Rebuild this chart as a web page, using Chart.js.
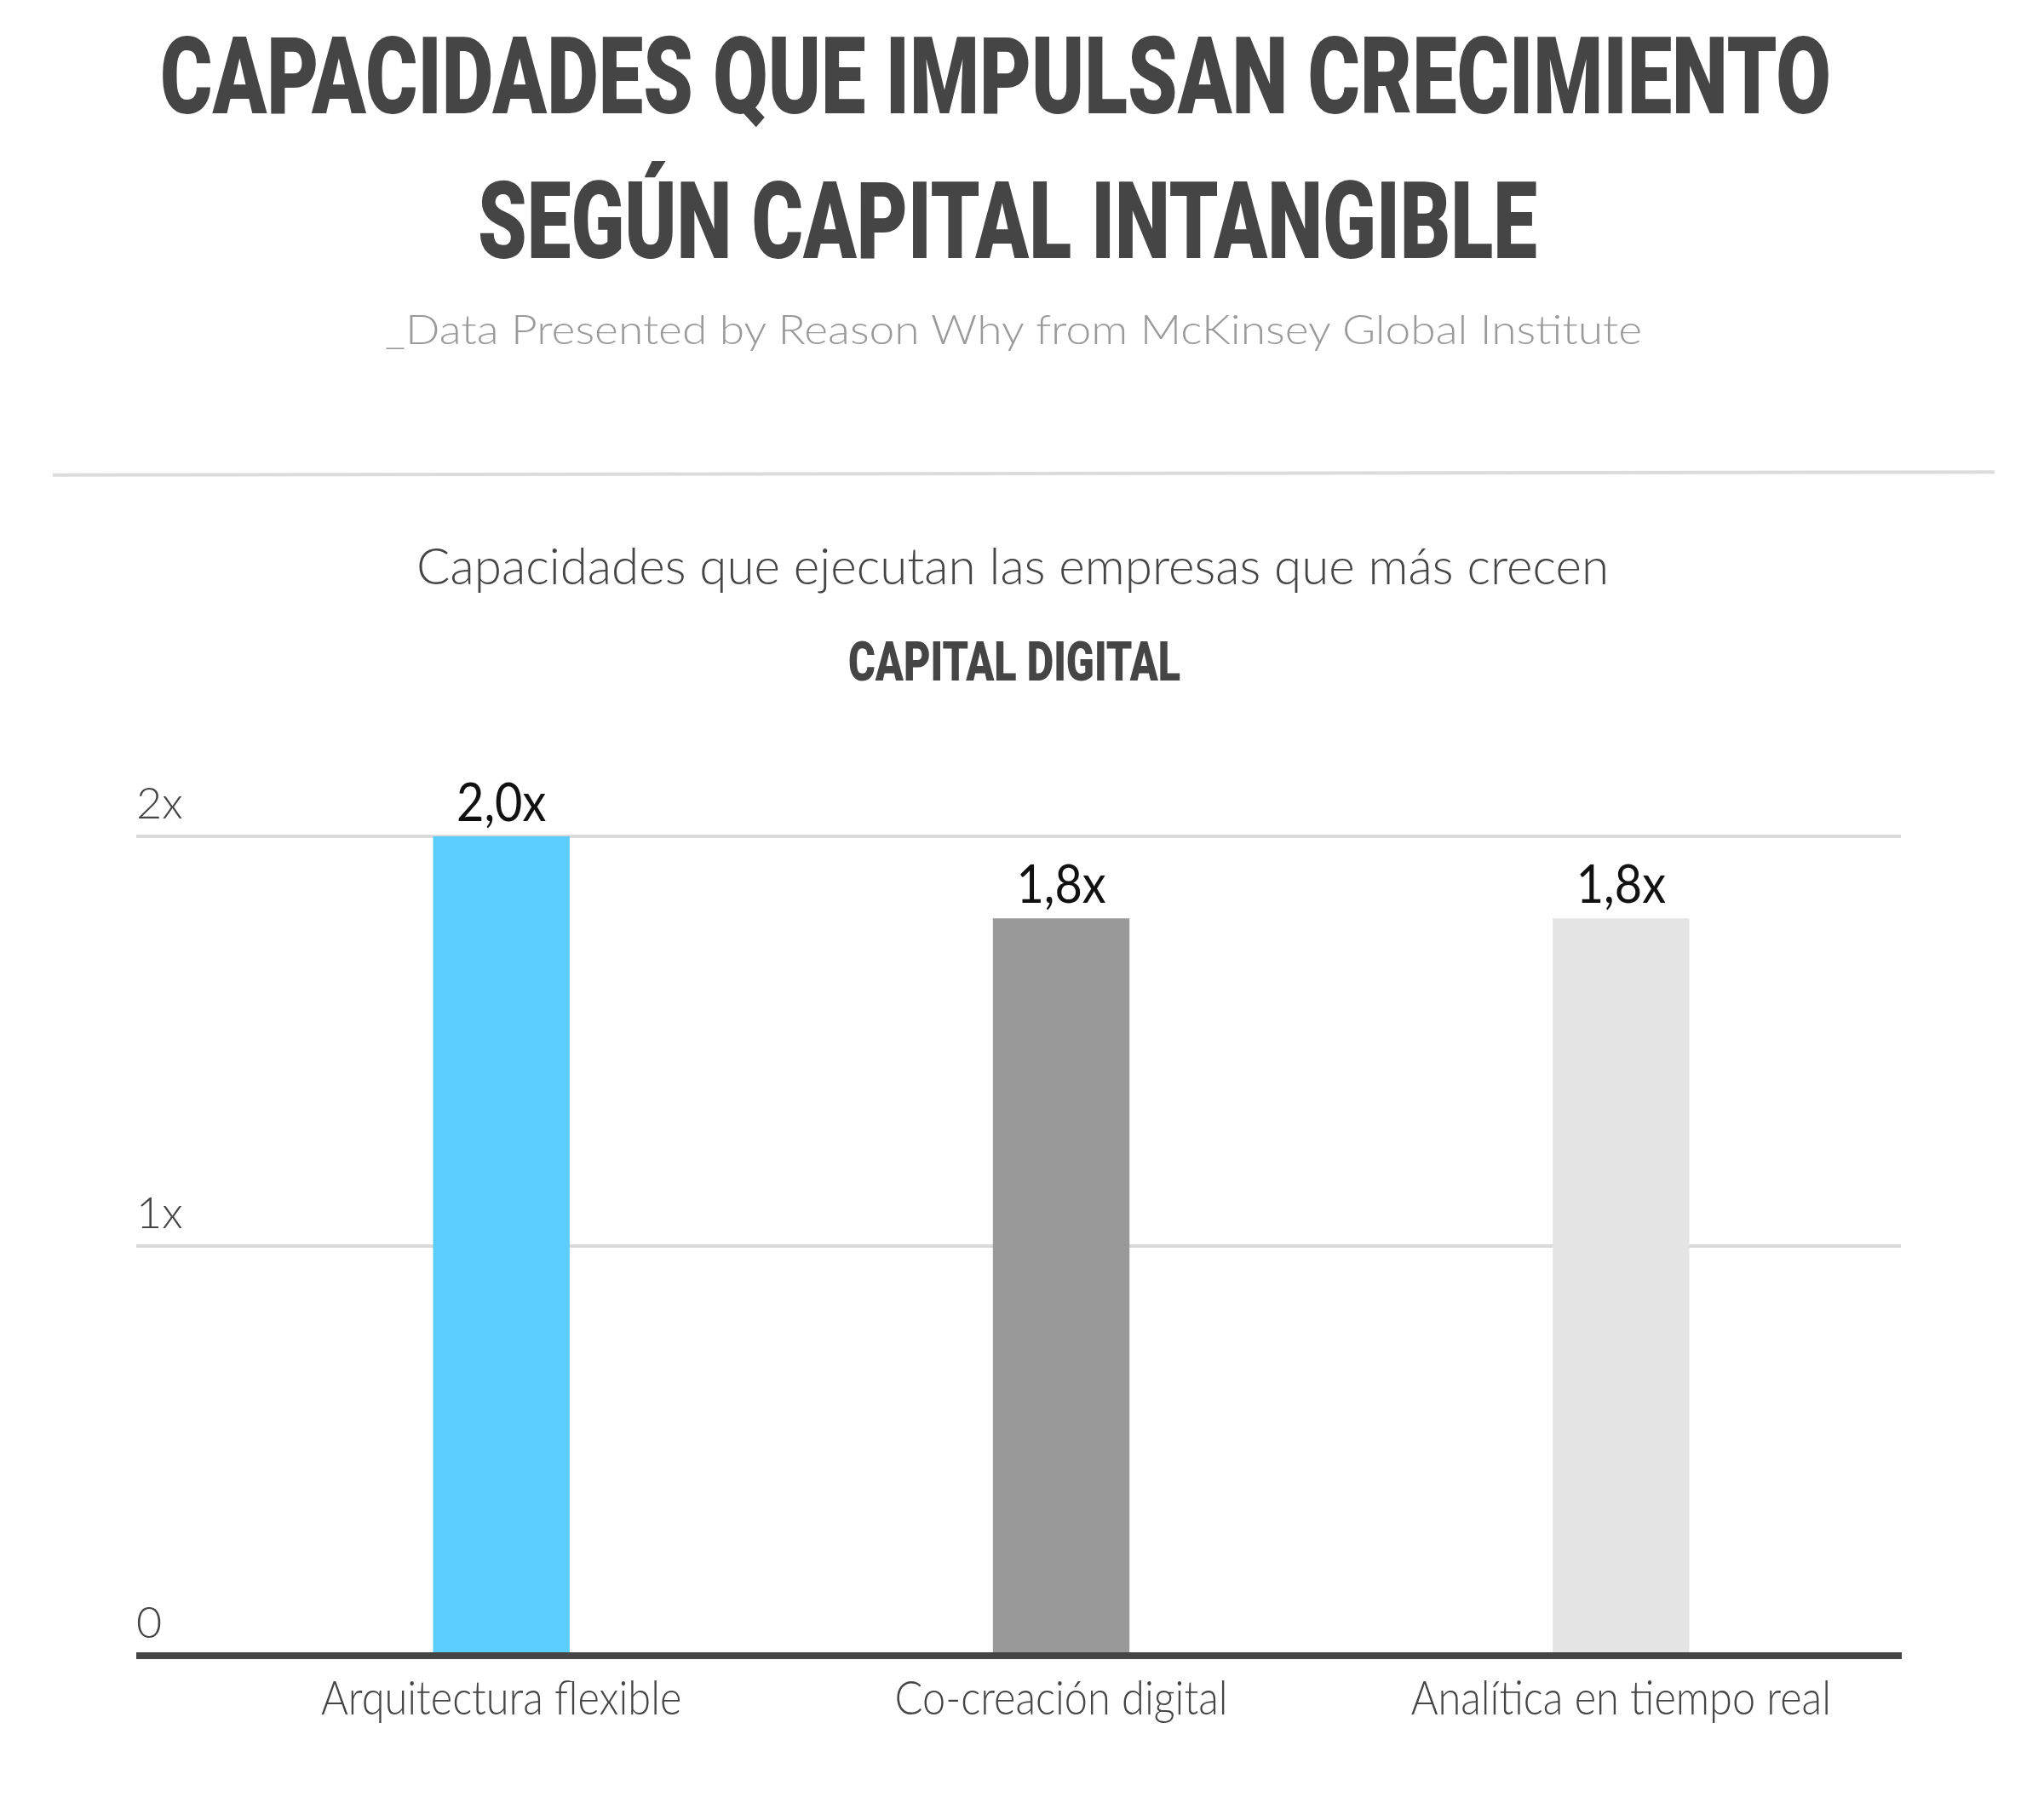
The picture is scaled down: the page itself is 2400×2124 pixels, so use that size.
<!DOCTYPE html>
<html><head><meta charset="utf-8">
<script src="https://cdn.jsdelivr.net/npm/chart.js@4.4.1/dist/chart.umd.min.js"></script>
<style>
html,body{margin:0;padding:0;background:#fff;}
#wrap{position:relative;width:2400px;height:2124px;overflow:hidden;background:#fff;}
#c{position:absolute;left:0;top:0;}
.t{position:absolute;white-space:nowrap;line-height:1;transform-origin:0 0;}
.title{font-family:Roboto,Lato,sans-serif;font-weight:900;color:#454545;}
.light{font-family:Lato,sans-serif;font-weight:300;}
#rule{position:absolute;left:62px;top:554px;width:2280px;height:4px;background:#dcdcdc;transform:rotate(-0.09deg);}
</style></head><body>
<div id="wrap">
<canvas id="c" width="2400" height="2124"></canvas>
<div class="t title" data-l="188" data-w="1962" style="top:26px;font-size:127px">CAPACIDADES QUE IMPULSAN CRECIMIENTO</div>
<div class="t title" data-l="561" data-w="1244" style="top:196px;font-size:127px">SEGÚN CAPITAL INTANGIBLE</div>
<div class="t light" data-l="452" data-w="1476" style="top:362px;font-size:48px;color:#9a9a9a">_Data Presented by Reason Why from McKinsey Global Institute</div>
<div id="rule"></div>
<div class="t light" data-l="489" data-w="1400" style="top:634px;font-size:59px;color:#454545">Capacidades que ejecutan las empresas que más crecen</div>
<div class="t title" data-l="996" data-w="390" style="top:746px;font-size:64px">CAPITAL DIGITAL</div>
</div>
<script>
const categories = ['Arquitectura flexible', 'Co-creación digital', 'Analítica en tiempo real'];
const values = [2.0, 1.8, 1.8];
const barColors = ['#5bcdfe', '#999999', '#e5e5e5'];
const yTickValues = [0, 1, 2];
const yTickLabels = ['0', '1x', '2x'];

function fmt(v) { return v.toFixed(1).replace('.', ',') + 'x'; }

document.querySelectorAll('.t').forEach(el => {
  el.style.left = el.dataset.l + 'px';
  const w = el.getBoundingClientRect().width;
  el.style.transform = 'scaleX(' + (parseFloat(el.dataset.w) / w) + ')';
});

function squeezedText(ctx, text, x, y, sx) {
  ctx.save();
  ctx.translate(x, y);
  ctx.scale(sx, 1);
  ctx.fillText(text, 0, 0);
  ctx.restore();
}

const labelPlugin = {
  id: 'labels',
  afterDatasetsDraw(chart) {
    const ctx = chart.ctx;
    const meta = chart.getDatasetMeta(0);
    ctx.save();
    ctx.font = '400 62px Lato';
    ctx.fillStyle = '#111111';
    ctx.textAlign = 'center';
    ctx.textBaseline = 'alphabetic';
    meta.data.forEach((bar, i) => {
      squeezedText(ctx, fmt(values[i]), bar.x, bar.y - 18, 0.9);
    });
    ctx.restore();
  },
  afterDraw(chart) {
    const ctx = chart.ctx;
    const xs = chart.scales.x;
    ctx.save();
    ctx.font = '300 56px Lato';
    ctx.fillStyle = '#454545';
    ctx.textAlign = 'center';
    ctx.textBaseline = 'alphabetic';
    categories.forEach((c, i) => {
      squeezedText(ctx, c, xs.getPixelForValue(i), chart.chartArea.bottom + 69, 0.87);
    });
    ctx.restore();
  }
};

new Chart(document.getElementById('c').getContext('2d'), {
  type: 'bar',
  data: {
    labels: categories,
    datasets: [{
      data: values,
      backgroundColor: barColors,
      borderWidth: 0,
      barPercentage: 0.244,
      categoryPercentage: 1
    }]
  },
  options: {
    responsive: false,
    animation: false,
    devicePixelRatio: 1,
    layout: { padding: { left: 160, right: 168, top: 982, bottom: 60 } },
    plugins: { legend: { display: false }, tooltip: { enabled: false } },
    scales: {
      x: {
        grid: { display: false },
        border: { display: true, color: '#454545', width: 8, z: 1 },
        ticks: { display: false },
        afterFit: s => { s.height = 120; }
      },
      y: {
        min: 0, max: 2,
        afterBuildTicks: s => { s.ticks = yTickValues.map(v => ({ value: v })); },
        ticks: {
          callback: (v, i) => yTickLabels[i],
          crossAlign: 'far', labelOffset: -38, padding: 0,
          font: { family: 'Lato', weight: '300', size: 52 }, color: '#454545'
        },
        grid: {
          color: c => (c.tick && c.tick.value === 0) ? '#454545' : '#dadada',
          lineWidth: c => (c.tick && c.tick.value === 0) ? 8 : 4,
          drawTicks: true, tickLength: 100
        },
        border: { display: false },
        afterFit: s => { s.width = 100; }
      }
    }
  },
  plugins: [labelPlugin]
});
</script>
</body></html>
